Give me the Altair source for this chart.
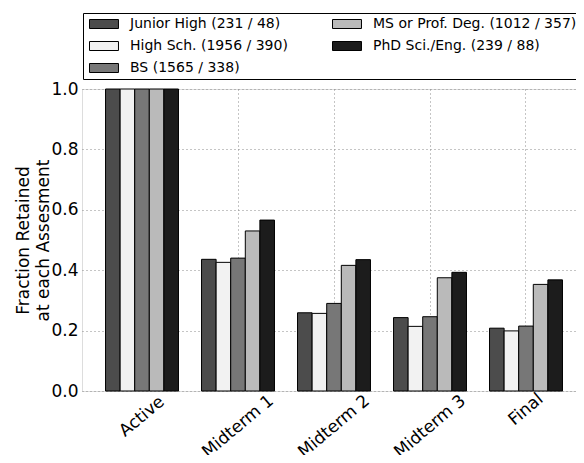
import altair as alt
import pandas as pd

assessments = ["Active", "Midterm 1", "Midterm 2", "Midterm 3", "Final"]
groups = [
    "Junior High (231 / 48)",
    "High Sch. (1956 / 390)",
    "BS (1565 / 338)",
    "MS or Prof. Deg. (1012 / 357)",
    "PhD Sci./Eng. (239 / 88)",
]
colors = ["#4c4c4c", "#f2f2f2", "#777777", "#bababa", "#1c1c1c"]
junior_high = [1.0, 0.436, 0.259, 0.243, 0.208]
high_sch = [1.0, 0.426, 0.257, 0.214, 0.199]
bs = [1.0, 0.440, 0.290, 0.246, 0.215]
ms = [1.0, 0.530, 0.416, 0.375, 0.353]
phd = [1.0, 0.566, 0.435, 0.393, 0.368]

series = [junior_high, high_sch, bs, ms, phd]
rows = []
for g, vals in zip(groups, series):
    for a, v in zip(assessments, vals):
        rows.append({"assessment": a, "group": g, "value": v})
df = pd.DataFrame(rows)

FONT = "DejaVu Sans"

label_pad = {
    "condition": [
        {"test": "datum.value == 'Active'", "value": 25},
        {"test": "datum.value == 'Final'", "value": 18},
    ],
    "value": 35,
}

chart = (
    alt.Chart(df)
    .mark_bar(stroke="#000000", strokeWidth=1)
    .encode(
        x=alt.X(
            "assessment:N",
            sort=assessments,
            scale=alt.Scale(paddingInner=0, paddingOuter=0.073, align=0.857),
            axis=alt.Axis(
                title=None,
                labelAngle=-40,
                labelAlign="center",
                labelBaseline="middle",
                labelPadding=label_pad,
                labelFontSize=17,
                labelFont=FONT,
                labelColor="#000000",
                ticks=False,
                domain=False,
                grid=True,
                gridColor="#8a8a8a",
                gridDash=[1, 3],
                gridWidth=1,
                labelOverlap=False,
            ),
        ),
        xOffset=alt.XOffset(
            "group:N",
            sort=groups,
            scale=alt.Scale(paddingInner=0, paddingOuter=0.79),
        ),
        y=alt.Y(
            "value:Q",
            scale=alt.Scale(domain=[0, 1], nice=False),
            axis=alt.Axis(
                title=["Fraction Retained", "at each Assesment"],
                titleFont=FONT,
                titleFontSize=17,
                titleFontWeight="normal",
                titleColor="#000000",
                titlePadding=-2,
                titleLineHeight=20,
                values=[0, 0.2, 0.4, 0.6, 0.8, 1.0],
                format=".1f",
                labelFont=FONT,
                labelFontSize=17,
                labelColor="#000000",
                labelPadding=4,
                ticks=False,
                domain=False,
                grid=True,
                gridColor="#8a8a8a",
                gridDash=[1, 3],
                gridWidth=1,
            ),
        ),
        color=alt.Color(
            "group:N",
            scale=alt.Scale(domain=groups, range=colors),
            legend=alt.Legend(
                title=None,
                orient="none",
                legendX=1,
                legendY=-76,
                columns=2,
                columnPadding=42,
                rowPadding=8,
                padding=4,
                strokeColor="#000000",
                fillColor="#ffffff",
                symbolType="M-1,-1H5.44V1H-1Z",
                symbolSize=81,
                symbolStrokeColor="#000000",
                symbolStrokeWidth=1,
                symbolOpacity=1,
                labelFont=FONT,
                labelFontSize=14,
                labelColor="#000000",
                labelOffset=29,
                labelLimit=400,
                labelExpr="indexof(['MS or Prof. Deg. (1012 / 357)', 'PhD Sci./Eng. (239 / 88)'], datum.label) >= 0 ? datum.label + '\u00a0\u00a0\u00a0' : datum.label",
            ),
        ),
    )
    .properties(
        width=494,
        height=302,
        autosize=alt.AutoSizeParams(type="none"),
        padding={"left": 74, "top": 81, "right": 0, "bottom": 64},
    )
    .configure_view(stroke="#000000", strokeWidth=1)
    .configure(background="#ffffff")
)

chart.save("out.html", embed_options={"renderer": "svg", "actions": False})
